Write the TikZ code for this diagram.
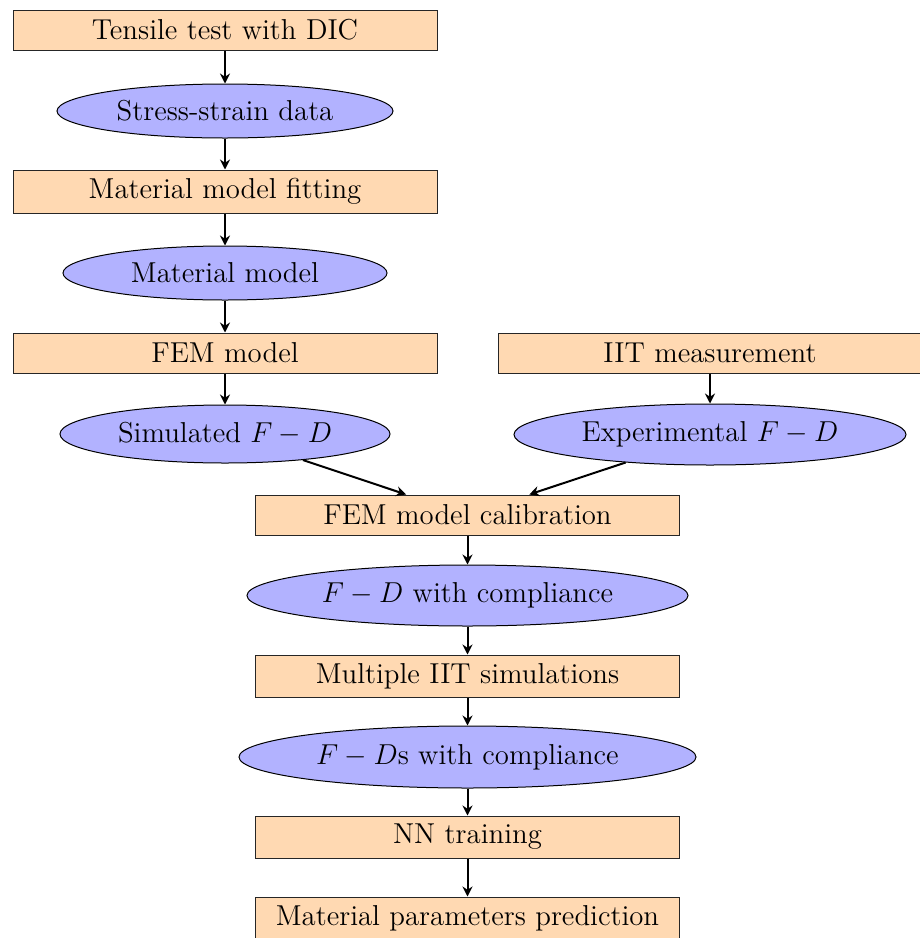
\documentclass[tikz,border=0pt]{standalone}
\usetikzlibrary{shapes.geometric,arrows.meta}
\begin{document}
\begin{tikzpicture}[x=0.5pt,y=-0.5pt,
  font=\fontsize{14.4}{17}\selectfont,
  box/.style={rectangle, draw=black!85, line width=0.5pt, fill=orange!30, minimum width=212pt, inner sep=0pt},
  oval/.style={ellipse, draw=black, line width=0.5pt, fill=blue!30, inner sep=0pt},
  arr/.style={line width=1pt, -{Stealth[length=5pt,width=5pt]}}]
\useasboundingbox (0,0) rectangle (920,938);
\node[box, minimum height=20pt] (t1) at (225,30) {Tensile test with DIC};
\node[oval, minimum width=168pt, minimum height=27pt] (e1) at (225,111) {Stress-strain data};
\node[box, minimum height=21.5pt] (t2) at (225,191.5) {Material model fitting};
\node[oval, minimum width=162pt, minimum height=27pt] (e2) at (225,273) {Material model};
\node[box, minimum height=20pt] (t3) at (225,353) {FEM model};
\node[oval, minimum width=165pt, minimum height=29pt] (e3) at (225,434) {Simulated $F-D$};
\node[box, minimum height=20pt] (r1) at (710,353) {IIT measurement};
\node[oval, minimum width=196pt, minimum height=30.5pt] (r2) at (710,434.5) {Experimental $F-D$};
\node[box, minimum height=20pt] (c1) at (467.5,515) {FEM model calibration};
\node[oval, minimum width=220.5pt, minimum height=30.5pt] (c2) at (467.5,595.5) {$F-D$ with compliance};
\node[box, minimum height=21pt] (c3) at (467.5,676) {Multiple IIT simulations};
\node[oval, minimum width=228.5pt, minimum height=31pt] (c4) at (467.5,757) {$F-D$s with compliance};
\node[box, minimum height=21pt] (c5) at (467.5,837) {NN training};
\node[box, minimum height=21pt] (c6) at (467.5,918) {Material parameters prediction};
\draw[arr] (t1) -- (e1);
\draw[arr] (e1) -- (t2);
\draw[arr] (t2) -- (e2);
\draw[arr] (e2) -- (t3);
\draw[arr] (t3) -- (e3);
\draw[arr] (r1) -- (r2);
\draw[arr] (e3) -- (c1);
\draw[arr] (r2) -- (c1);
\draw[arr] (c1) -- (c2);
\draw[arr] (c2) -- (c3);
\draw[arr] (c3) -- (c4);
\draw[arr] (c4) -- (c5);
\draw[arr] (c5) -- (c6);
\end{tikzpicture}
\end{document}
